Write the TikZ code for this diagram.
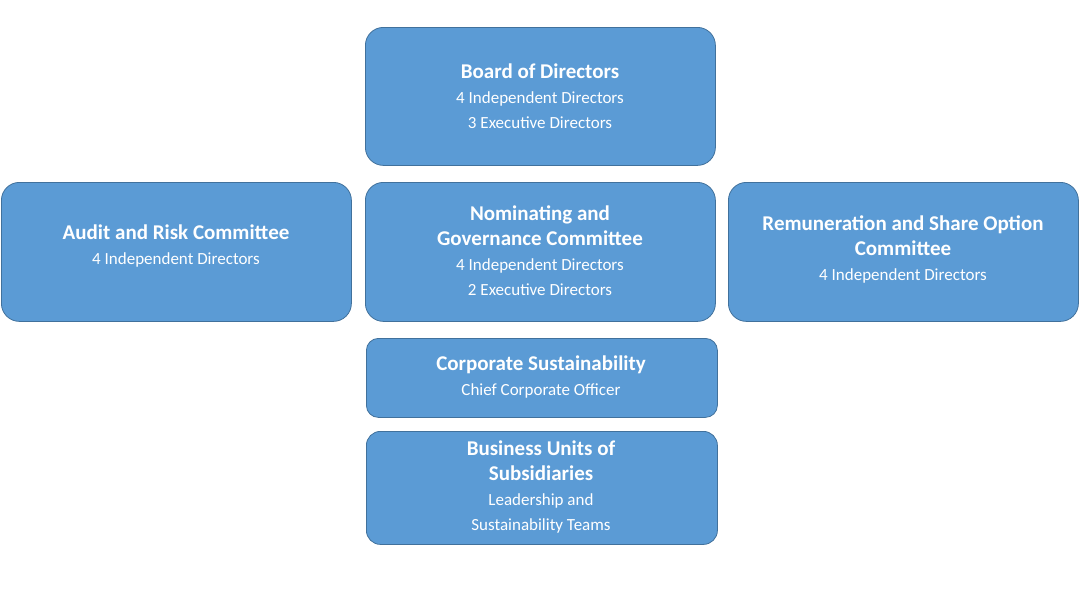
\documentclass[tikz,border=0pt]{standalone}
\usepackage{fontspec}
\setmainfont{Carlito}
\definecolor{boxfill}{HTML}{5B9BD5}
\definecolor{boxline}{HTML}{41719C}
\newcommand{\ttl}[1]{{\fontsize{21}{25}\selectfont\bfseries #1}}
\begin{document}
\begin{tikzpicture}[x=1pt,y=-1pt,
  box/.style={draw=boxline,fill=boxfill,rounded corners=18pt,line width=0.8pt,inner sep=0pt,anchor=north west},
  txt/.style={text=white,align=center,inner sep=0pt,font=\fontsize{17}{25}\selectfont}]
\useasboundingbox (0,0) rectangle (1081,608);
\node[box,minimum width=350pt,minimum height=138pt] (board) at (365,27) {};
\node[box,minimum width=350pt,minimum height=139pt] (audit) at (1,182) {};
\node[box,minimum width=350pt,minimum height=139pt] (nom) at (365,182) {};
\node[box,minimum width=350pt,minimum height=139pt] (rem) at (728,182) {};
\node[box,minimum width=351pt,minimum height=79pt,rounded corners=12pt] (csr) at (366,338) {};
\node[box,minimum width=351pt,minimum height=113pt,rounded corners=14pt] (bu) at (366,431) {};
\node[txt] (tboard) at (540,96) {\ttl{Board of Directors}\\4 Independent Directors\\3 Executive Directors};
\node[txt] (taudit) at (176,246) {\ttl{Audit and Risk Committee}\\4 Independent Directors};
\node[txt] (tnom) at (540,251) {\ttl{Nominating and}\\\ttl{Governance Committee}\\4 Independent Directors\\2 Executive Directors};
\node[txt] (trem) at (903,249) {\ttl{Remuneration and Share Option}\\\ttl{Committee}\\4 Independent Directors};
\node[txt] (tcsr) at (541,377) {\ttl{Corporate Sustainability}\\Chief Corporate Officer};
\node[txt] (tbu) at (541,487) {\ttl{Business Units of}\\\ttl{Subsidiaries}\\Leadership and\\Sustainability Teams};
\end{tikzpicture}
\end{document}
